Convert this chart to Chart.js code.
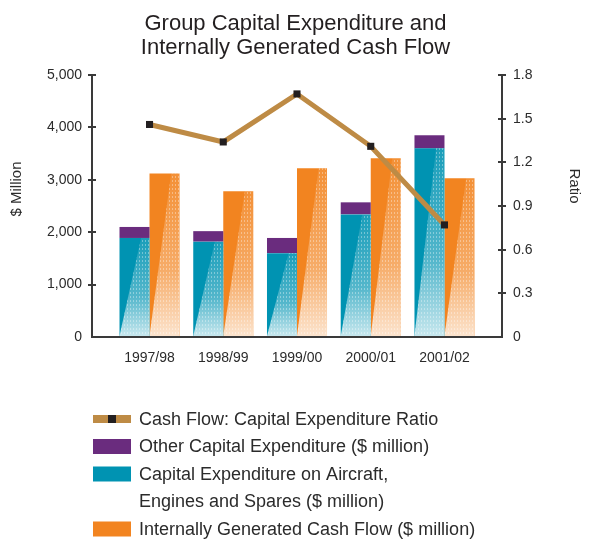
<!DOCTYPE html>
<html>
<head>
<meta charset="utf-8">
<title>Group Capital Expenditure and Internally Generated Cash Flow</title>
<script src="https://cdn.jsdelivr.net/npm/chart.js@4.4.0/dist/chart.umd.min.js"></script>
<style>
  html, body { margin: 0; padding: 0; background: #ffffff; }
</style>
</head>
<body>
<canvas id="capex_chart" width="591" height="540"></canvas>
<script>
// financial years and values ($ million / ratio)
const years = ['1997/98', '1998/99', '1999/00', '2000/01', '2001/02'];
const aircraftCapex = [1890, 1820, 1600, 2340, 3600];
const otherCapex = [210, 200, 290, 230, 250];
const internalCashFlow = [3120, 2780, 3220, 3410, 3030];
const cashFlowRatio = [1.46, 1.34, 1.67, 1.31, 0.77];
const moneyTicks = [0, 1000, 2000, 3000, 4000, 5000];
const ratioTicks = [0, 0.3, 0.6, 0.9, 1.2, 1.5, 1.8];

const FONT = "'Liberation Sans', Arial, Helvetica, sans-serif";
const TEXT = '#2b2b2b';
const AXIS = '#3a3a3a';

// small tile of light dashes for the screened half of the bars
function makeScreenTile() {
    const tile = document.createElement('canvas');
    tile.width = 3;
    tile.height = 4;
    const t = tile.getContext('2d');
    t.fillStyle = 'rgba(255,255,255,0.35)';
    t.fillRect(1, 0, 1, 2);
    return tile;
}
const screenTile = makeScreenTile();

// lighter diagonal wash over the right side of each bar, fading towards the base
const barShade = {
    id: 'barShade',
    afterDatasetDraw(chart, args) {
        const ds = chart.data.datasets[args.index];
        if (!ds.shaded) return;
        const ctx = chart.ctx;
        const pattern = ctx.createPattern(screenTile, 'repeat');
        ctx.save();
        args.meta.data.forEach(bar => {
            const { x, y, base, width } = bar.getProps(['x', 'y', 'base', 'width'], true);
            const left = x - width / 2, right = x + width / 2;
            const grad = ctx.createLinearGradient(0, y, 0, base);
            grad.addColorStop(0, 'rgba(255,255,255,0.10)');
            grad.addColorStop(0.6, 'rgba(255,255,255,0.33)');
            grad.addColorStop(1, 'rgba(255,255,255,0.78)');
            ctx.beginPath();
            ctx.moveTo(left + width * 0.72, y);
            ctx.lineTo(right, y);
            ctx.lineTo(right, base);
            ctx.lineTo(left, base);
            ctx.closePath();
            ctx.fillStyle = grad;
            ctx.fill();
            ctx.fillStyle = pattern;
            ctx.fill();
        });
        ctx.restore();
    }
};

// tick marks that cross the axis line, axis titles and the legend block
const chartDecor = {
    id: 'chartDecor',
    afterDraw(chart, args, opts) {
        const ctx = chart.ctx;
        const { y, y1 } = chart.scales;
        ctx.save();
        ctx.strokeStyle = AXIS;
        ctx.lineWidth = 2;
        y.ticks.forEach(t => {
            if (t.value === 0) return;
            const py = Math.round(y.getPixelForValue(t.value));
            ctx.beginPath(); ctx.moveTo(y.right, py); ctx.lineTo(y.right + 4, py); ctx.stroke();
        });
        y1.ticks.forEach(t => {
            if (t.value === 0) return;
            const py = Math.round(y1.getPixelForValue(t.value));
            ctx.beginPath(); ctx.moveTo(y1.left - 4, py); ctx.lineTo(y1.left, py); ctx.stroke();
        });

        ctx.fillStyle = TEXT;
        ctx.font = '15px ' + FONT;
        ctx.textAlign = 'center';
        ctx.textBaseline = 'middle';
        ctx.save();
        ctx.translate(opts.leftTitle.x, opts.leftTitle.y);
        ctx.rotate(-Math.PI / 2);
        ctx.fillText(opts.leftTitle.text, 0, 0);
        ctx.restore();
        ctx.save();
        ctx.translate(opts.rightTitle.x, opts.rightTitle.y);
        ctx.rotate(Math.PI / 2);
        ctx.fillText(opts.rightTitle.text, 0, 0);
        ctx.restore();

        // legend
        ctx.font = '18px ' + FONT;
        ctx.textAlign = 'left';
        let rowY = opts.legend.top;
        opts.legend.order.forEach(i => {
            const ds = chart.data.datasets[i];
            const bx = opts.legend.boxX, bw = opts.legend.boxWidth;
            if (ds.type === 'line') {
                ctx.fillStyle = ds.borderColor;
                ctx.fillRect(bx, rowY - 4, bw, 8);
                ctx.fillStyle = ds.pointBackgroundColor;
                ctx.fillRect(bx + bw / 2 - 4, rowY - 4, 8, 8);
            } else {
                ctx.fillStyle = ds.backgroundColor;
                ctx.fillRect(bx, rowY - 7.5, bw, 15);
            }
            ctx.fillStyle = TEXT;
            [].concat(ds.label).forEach(line => {
                ctx.fillText(line, opts.legend.textX, rowY + 1);
                rowY += opts.legend.rowHeight;
            });
        });
        ctx.restore();
    }
};

const ctx = document.getElementById('capex_chart').getContext('2d');
const capexChart = new Chart(ctx, {
    data: {
        datasets: [
            {
                type: 'line',
                label: 'Cash Flow: Capital Expenditure Ratio',
                data: cashFlowRatio.map((v, i) => ({ x: i, y: v })),
                yAxisID: 'y1',
                borderColor: '#BE8B45',
                borderWidth: 5,
                pointStyle: 'rect',
                pointRadius: 5,
                pointBorderWidth: 0,
                pointBackgroundColor: '#231F20',
                tension: 0,
                order: 0
            },
            {
                type: 'bar',
                label: ['Capital Expenditure on Aircraft,', 'Engines and Spares ($ million)'],
                data: aircraftCapex.map((v, i) => ({ x: i, y: v })),
                backgroundColor: '#0093B2',
                stack: 'capex',
                shaded: true,
                order: 1
            },
            {
                type: 'bar',
                label: 'Other Capital Expenditure ($ million)',
                data: otherCapex.map((v, i) => ({ x: i, y: v })),
                backgroundColor: '#6A2C7E',
                stack: 'capex',
                order: 1
            },
            {
                type: 'bar',
                label: 'Internally Generated Cash Flow ($ million)',
                data: internalCashFlow.map((v, i) => ({ x: i, y: v })),
                backgroundColor: '#F28420',
                stack: 'cash',
                shaded: true,
                order: 1
            }
        ]
    },
    options: {
        responsive: false,
        animation: false,
        datasets: {
            bar: { categoryPercentage: 0.814, barPercentage: 1, borderWidth: 0 }
        },
        layout: { padding: 0 },
        scales: {
            x: {
                type: 'linear',
                offset: false,
                min: -0.78,
                max: 4.78,
                afterBuildTicks: s => { s.ticks = years.map((_, i) => ({ value: i })); },
                ticks: {
                    callback: v => years[v],
                    autoSkip: false,
                    maxRotation: 0,
                    padding: 13,
                    color: TEXT,
                    font: { family: FONT, size: 14 }
                },
                grid: { offset: false, drawOnChartArea: false, drawTicks: false },
                border: { color: AXIS, width: 2 },
                afterFit: s => { s.height = 203; }
            },
            y: {
                position: 'left',
                stacked: true,
                min: 0,
                max: 5000,
                afterBuildTicks: s => { s.ticks = moneyTicks.map(v => ({ value: v })); },
                ticks: {
                    callback: v => v.toLocaleString('en-US'),
                    padding: 6,
                    color: TEXT,
                    font: { family: FONT, size: 14 }
                },
                grid: {
                    drawOnChartArea: false,
                    tickLength: 4,
                    lineWidth: 2,
                    color: c => (c.tick && c.tick.value === 0 ? 'rgba(0,0,0,0)' : AXIS)
                },
                border: { color: AXIS, width: 2 },
                afterFit: s => { s.width = 92; }
            },
            y1: {
                position: 'right',
                min: 0,
                max: 1.8,
                afterBuildTicks: s => { s.ticks = ratioTicks.map(v => ({ value: v })); },
                ticks: {
                    callback: v => (v === 0 ? '0' : v.toFixed(1)),
                    padding: 7,
                    color: TEXT,
                    font: { family: FONT, size: 14 }
                },
                grid: {
                    drawOnChartArea: false,
                    tickLength: 4,
                    lineWidth: 2,
                    color: c => (c.tick && c.tick.value === 0 ? 'rgba(0,0,0,0)' : AXIS)
                },
                border: { color: AXIS, width: 2 },
                afterFit: s => { s.width = 89; }
            }
        },
        plugins: {
            legend: { display: false },
            tooltip: { enabled: false },
            title: {
                display: true,
                text: ['Group Capital Expenditure and', 'Internally Generated Cash Flow'],
                color: '#231F20',
                font: { family: FONT, size: 22, weight: 'normal', lineHeight: 1.1 },
                padding: { top: 12, bottom: 14.6 }
            },
            chartDecor: {
                leftTitle: { text: '$ Million', x: 17, y: 189 },
                rightTitle: { text: 'Ratio', x: 574, y: 186 },
                legend: { order: [0, 2, 1, 3], top: 419, rowHeight: 27.5, boxX: 93, boxWidth: 38, textX: 139 }
            }
        }
    },
    plugins: [barShade, chartDecor]
});
</script>
</body>
</html>
